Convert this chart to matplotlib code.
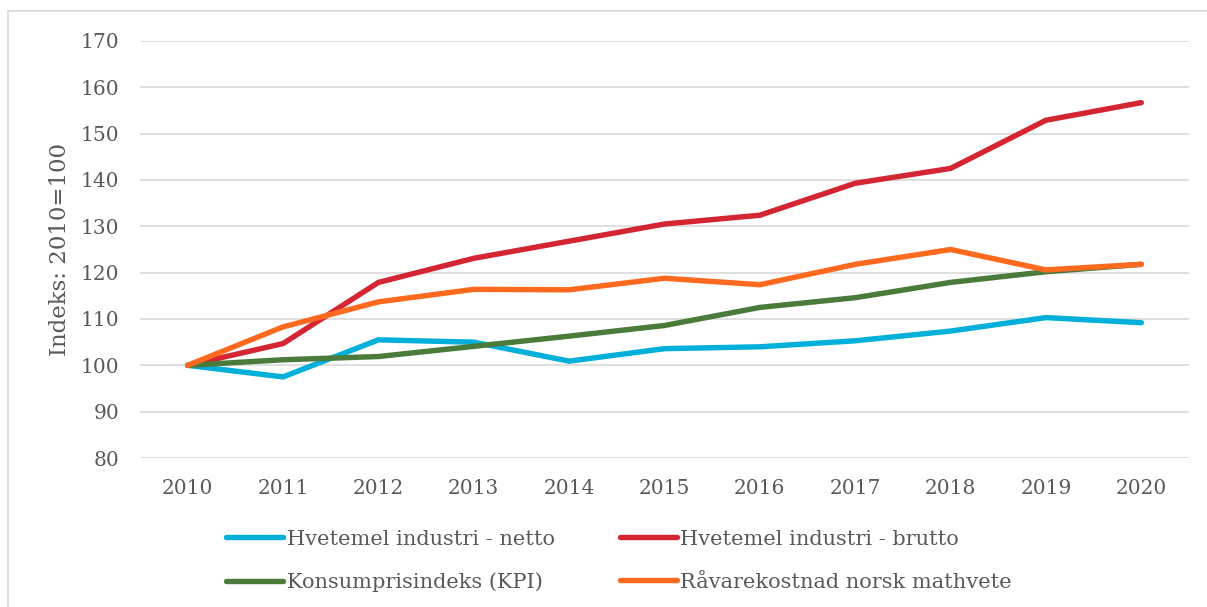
import matplotlib
matplotlib.use("Agg")
import matplotlib.pyplot as plt
from matplotlib.patches import Rectangle

years = ["2010", "2011", "2012", "2013", "2014", "2015", "2016", "2017", "2018", "2019", "2020"]
netto = [100, 97.5, 105.5, 105.0, 100.9, 103.6, 104.0, 105.3, 107.4, 110.3, 109.2]
brutto = [100, 104.7, 117.9, 123.1, 126.8, 130.5, 132.4, 139.3, 142.5, 152.9, 156.7]
kpi = [100, 101.2, 101.9, 104.1, 106.3, 108.6, 112.5, 114.6, 117.9, 120.2, 121.8]
raavare = [100, 108.3, 113.7, 116.4, 116.3, 118.8, 117.4, 121.8, 125.0, 120.6, 121.8]
yticks = [80, 90, 100, 110, 120, 130, 140, 150, 160, 170]

labels = ["Hvetemel industri - netto", "Hvetemel industri - brutto",
          "Konsumprisindeks (KPI)", "Råvarekostnad norsk mathvete"]
colors = ["#00B0DA", "#D42532", "#4A7B3B", "#FF6A1F"]

plt.rcParams['font.family'] = ['DejaVu Serif']
txt = "#595959"

fig = plt.figure(figsize=(12.07, 6.07), dpi=100)
ax = fig.add_axes([140/1207, 1-458/607, (1189-140)/1207, (458-41)/607])

x = list(range(len(years)))
series = [netto, brutto, kpi, raavare]
handles = []
for s, c, l in zip(series, colors, labels):
    h, = ax.plot(x, s, color=c, lw=3.9, solid_capstyle='round', solid_joinstyle='round', label=l, zorder=3)
    handles.append(h)
ax.set_xlim(-0.5, len(years) - 0.5)
ax.set_ylim(80, 170)
ax.set_yticks(yticks)
ax.set_xticks(x)
ax.set_xticklabels(years)
ax.grid(axis='y', color='#D9D9D9', lw=1.2, zorder=0)
ax.set_axisbelow(True)
for sp in ax.spines.values():
    sp.set_visible(False)
ax.tick_params(axis='both', length=0, colors=txt, labelsize=14.5)
ax.tick_params(axis='y', pad=15)
ax.tick_params(axis='x', pad=15)
ax.set_ylabel("Indeks: 2010=100", color=txt, fontsize=16.5, labelpad=7)

leg = fig.legend([handles[0], handles[2], handles[1], handles[3]],
                 [labels[0], labels[2], labels[1], labels[3]],
                 ncol=2, loc='center', bbox_to_anchor=(619/1207, 1-561/607),
                 frameon=False, fontsize=15, handlelength=2.75, handletextpad=0.15,
                 columnspacing=3.13, labelspacing=1.15, labelcolor=txt)

fig.patches.append(Rectangle((8/1207, -0.05), 1.2, 1-11/607+0.05, transform=fig.transFigure,
                             fill=False, edgecolor='#D9D9D9', lw=1.2))

fig.savefig("out.png", dpi=100)
